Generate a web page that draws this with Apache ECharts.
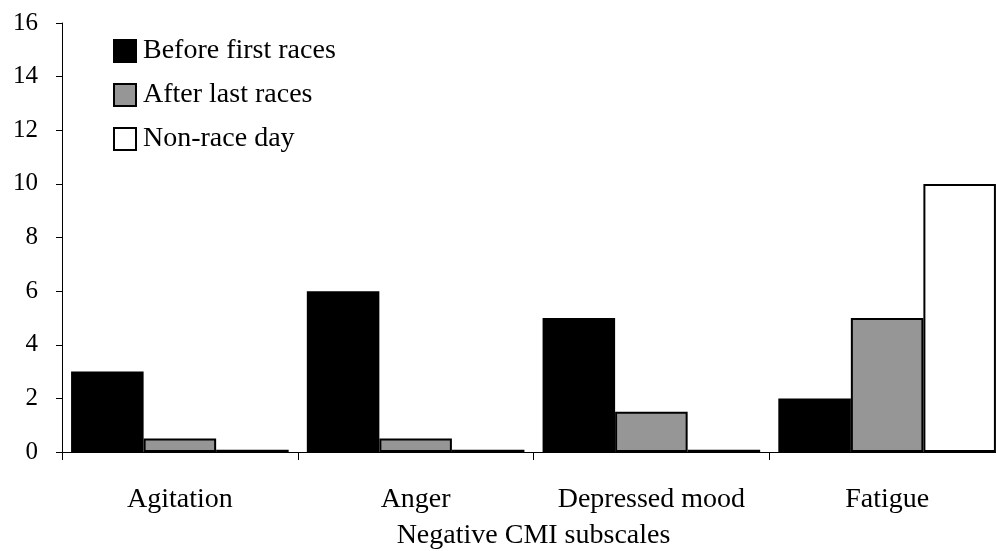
<!DOCTYPE html>
<html>
<head>
<meta charset="utf-8">
<script src="https://cdn.jsdelivr.net/npm/echarts@6/dist/echarts.min.js"></script>
<style>
  html, body { margin: 0; padding: 0; background: #fff; overflow: hidden; }
  #chart { width: 1010px; height: 551px; }
</style>
</head>
<body>
<div id="chart"></div>
<script>
// Negative CMI subscale scores by measurement occasion
const categories = ['Agitation', 'Anger', 'Depressed mood', 'Fatigue'];
const seriesNames = ['Before first races', 'After last races', 'Non-race day'];
const beforeFirst = [3, 6, 5, 2];
const afterLast = [0.5, 0.5, 1.5, 5];
const nonRaceDay = [0.08, 0.08, 0.08, 10];
const yTicks = { min: 0, max: 16, interval: 2 };

const fills = ['#000000', '#969696', '#ffffff'];
const font = '"Liberation Serif", "Times New Roman", serif';

const chart = echarts.init(document.getElementById('chart'), null, { renderer: 'canvas' });

function barSeries(name, data, color) {
  return {
    name: name,
    type: 'bar',
    data: data,
    barGap: '0%',
    barCategoryGap: '7.7%',
    itemStyle: { color: color, borderColor: '#000', borderWidth: 2 },
    emphasis: { disabled: true }
  };
}

// The plot runs a little past the right edge of the visible page
chart.setOption({
  animation: false,
  backgroundColor: '#fff',
  textStyle: { fontFamily: font, color: '#000' },
  grid: { left: 62, top: 23, right: 5, bottom: 99, containLabel: false, outerBoundsMode: 'none' },
  legend: {
    orient: 'vertical',
    left: 113,
    top: 37,
    padding: 0,
    itemWidth: 22,
    itemHeight: 22,
    itemGap: 16,
    icon: 'rect',
    itemStyle: { borderColor: '#000', borderWidth: 2 },
    textStyle: { fontFamily: font, fontSize: 28, color: '#000', padding: [0, 0, 0, 2] },
    data: seriesNames
  },
  xAxis: {
    type: 'category',
    data: categories,
    name: 'Negative CMI subscales',
    nameLocation: 'middle',
    nameGap: 70,
    nameMoveOverlap: false,
    nameTextStyle: { fontFamily: font, fontSize: 28, color: '#000' },
    axisLine: { lineStyle: { color: '#000', width: 1 } },
    axisTick: { show: true, interval: 0, length: 8, lineStyle: { color: '#000' } },
    axisLabel: { interval: 0, fontFamily: font, fontSize: 28, color: '#000', margin: 34 }
  },
  yAxis: {
    type: 'value',
    min: yTicks.min,
    max: yTicks.max,
    interval: yTicks.interval,
    splitLine: { show: false },
    axisLine: { show: true, lineStyle: { color: '#000', width: 1 } },
    axisTick: { show: true, length: 6, lineStyle: { color: '#000' } },
    axisLabel: { fontFamily: font, fontSize: 25, color: '#000', margin: 24 }
  },
  series: [
    barSeries(seriesNames[0], beforeFirst, fills[0]),
    barSeries(seriesNames[1], afterLast, fills[1]),
    barSeries(seriesNames[2], nonRaceDay, fills[2])
  ]
});
</script>
</body>
</html>
